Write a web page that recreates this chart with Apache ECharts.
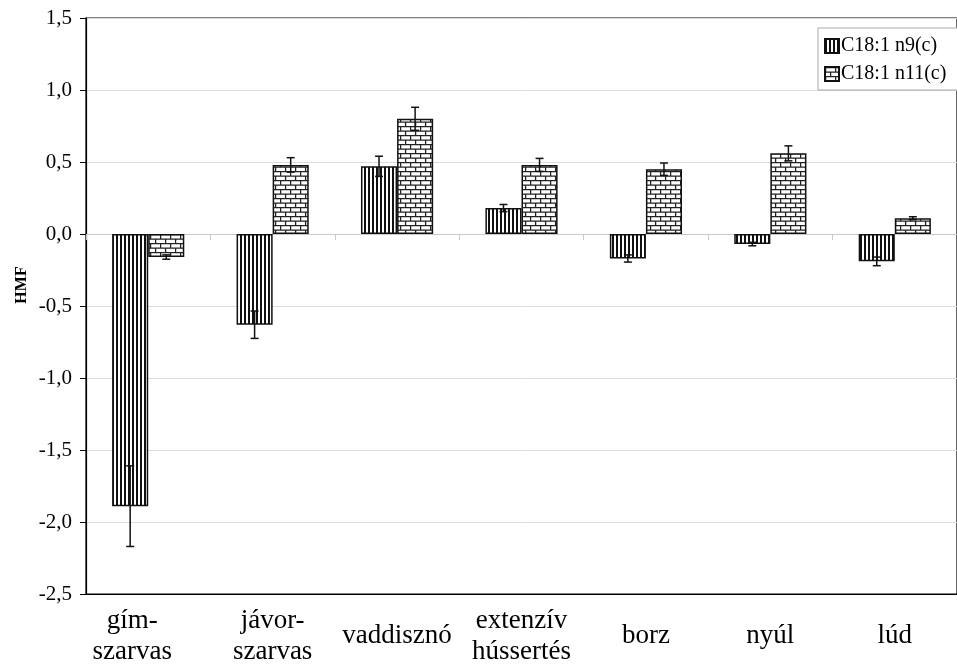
<!DOCTYPE html>
<html>
<head>
<meta charset="utf-8">
<script src="https://cdn.jsdelivr.net/npm/echarts@6/dist/echarts.min.js"></script>
<style>
  html, body { margin: 0; padding: 0; background: #fff; }
  #chart { width: 957px; height: 667px; }
</style>
</head>
<body>
<div id="chart"></div>
<script>
// Categories (species / production type)
const categories = ['gím-\nszarvas', 'jávor-\nszarvas', 'vaddisznó', 'extenzív\nhússertés', 'borz', 'nyúl', 'lúd'];

// HMF values and their error (± half-range) per fatty acid
const n9Values = [-1.89, -0.63, 0.47, 0.18, -0.17, -0.07, -0.19];
const n9Errors = [0.28, 0.095, 0.07, 0.025, 0.025, 0.012, 0.03];
const n11Values = [-0.16, 0.48, 0.80, 0.48, 0.45, 0.56, 0.11];
const n11Errors = [0.015, 0.05, 0.08, 0.045, 0.043, 0.052, 0.01];

const seriesNames = ['C18:1 n9(c)', 'C18:1 n11(c)'];
const yTicks = { min: -2.5, max: 1.5, step: 0.5 };
const yTitle = 'HMF';

const FONT = '"Liberation Serif", "Times New Roman", serif';
const BAR_GAP_CATEGORY = 0.42;

// Vertical stripe fill
function stripePattern() {
  const c = document.createElement('canvas');
  c.width = 4; c.height = 4;
  const g = c.getContext('2d');
  g.fillStyle = '#fff'; g.fillRect(0, 0, 4, 4);
  g.fillStyle = '#111'; g.fillRect(0, 0, 2, 4);
  return c;
}

// Brick fill
function brickPattern() {
  const c = document.createElement('canvas');
  c.width = 10; c.height = 9;
  const g = c.getContext('2d');
  g.fillStyle = '#fff'; g.fillRect(0, 0, 10, 9);
  g.strokeStyle = '#222'; g.lineWidth = 1.3;
  g.beginPath();
  g.moveTo(0, 0.6); g.lineTo(10, 0.6);
  g.moveTo(0, 5.1); g.lineTo(10, 5.1);
  g.moveTo(0.6, 0.6); g.lineTo(0.6, 5.1);
  g.moveTo(5.6, 5.1); g.lineTo(5.6, 9);
  g.stroke();
  return c;
}

const fills = [
  { image: stripePattern(), repeat: 'repeat' },
  { image: brickPattern(), repeat: 'repeat' }
];

function errorSeries(values, errors, side) {
  return {
    type: 'custom',
    xAxisIndex: 0,
    yAxisIndex: 0,
    z: 5,
    silent: true,
    data: values.map((v, i) => [i, v, errors[i]]),
    encode: { x: 0, y: 1 },
    renderItem: function (params, api) {
      const cat = api.value(0), v = api.value(1), e = api.value(2);
      const band = api.size([1, 0])[0];
      const w = band * (1 - BAR_GAP_CATEGORY) / 2;
      const x = api.coord([cat, v])[0] + side * w / 2;
      const yTop = api.coord([cat, v + e])[1];
      const yBot = api.coord([cat, v - e])[1];
      const cap = 4;
      const style = { stroke: '#111', lineWidth: 1.5 };
      return {
        type: 'group',
        children: [
          { type: 'line', shape: { x1: x, y1: yTop, x2: x, y2: yBot }, style },
          { type: 'line', shape: { x1: x - cap, y1: yTop, x2: x + cap, y2: yTop }, style },
          { type: 'line', shape: { x1: x - cap, y1: yBot, x2: x + cap, y2: yBot }, style }
        ]
      };
    }
  };
}

const chart = echarts.init(document.getElementById('chart'), null, { renderer: 'canvas' });

chart.setOption({
  animation: false,
  backgroundColor: '#fff',
  textStyle: { fontFamily: FONT, color: '#000' },
  grid: {
    left: 86, top: 18, right: -12, bottom: 72,
    show: true, borderColor: '#000', borderWidth: 1.2, backgroundColor: 'transparent'
  },
  legend: {
    data: seriesNames,
    orient: 'vertical',
    left: 818, top: 28,
    padding: [8, 30, 6, 6],
    itemGap: 8,
    itemWidth: 14, itemHeight: 14,
    icon: 'rect',
    borderColor: '#aaa', borderWidth: 1,
    backgroundColor: '#fff',
    textStyle: { fontFamily: FONT, fontSize: 20, color: '#000', padding: [0, 0, 0, -3] }
  },
  graphic: [{
    type: 'text',
    x: 22, y: 285,
    rotation: Math.PI / 2,
    style: {
      text: yTitle,
      fontFamily: FONT, fontSize: 16, fontWeight: 'bold', fill: '#000',
      align: 'center', verticalAlign: 'middle'
    }
  }],
  xAxis: [
    {
      type: 'category',
      data: categories,
      position: 'bottom',
      axisLine: { onZero: true, lineStyle: { color: '#c8c8c8', width: 1 } },
      axisTick: { show: true, length: 6, lineStyle: { color: '#c8c8c8' } },
      axisLabel: { show: false }
    },
    {
      type: 'category',
      data: categories,
      position: 'bottom',
      axisLine: { onZero: false, lineStyle: { color: '#000', width: 1.2 } },
      axisTick: { show: false },
      axisLabel: {
        fontFamily: FONT, fontSize: 27, color: '#000',
        lineHeight: 31, verticalAlign: 'middle', margin: 42, interval: 0,
        formatter: (v, i) => i === 0 ? '{wide|' + v.split('\n').join('}\n{wide|') + '}' : v,
        rich: {
          wide: { fontFamily: FONT, fontSize: 27, lineHeight: 31, color: '#000', padding: [0, 32, 0, 0] }
        }
      }
    }
  ],
  yAxis: {
    type: 'value',
    min: yTicks.min, max: yTicks.max, interval: yTicks.step,
    axisLine: { show: true, lineStyle: { color: '#000', width: 1.2 } },
    axisTick: { show: true, length: 6, inside: false, lineStyle: { color: '#000' } },
    axisLabel: {
      fontFamily: FONT, fontSize: 21, color: '#000', margin: 14,
      formatter: v => v.toFixed(1).replace('.', ',')
    },
    splitLine: { show: true, lineStyle: { color: '#dcdcdc', width: 1 } }
  },
  series: [
    {
      name: seriesNames[0], type: 'bar', xAxisIndex: 0, yAxisIndex: 0,
      data: n9Values,
      barGap: '0%', barCategoryGap: (BAR_GAP_CATEGORY * 100) + '%',
      itemStyle: { color: fills[0], borderColor: '#111', borderWidth: 1.5 }
    },
    {
      name: seriesNames[1], type: 'bar', xAxisIndex: 0, yAxisIndex: 0,
      data: n11Values,
      barGap: '0%', barCategoryGap: (BAR_GAP_CATEGORY * 100) + '%',
      itemStyle: { color: fills[1], borderColor: '#111', borderWidth: 1.5 }
    },
    errorSeries(n9Values, n9Errors, -1),
    errorSeries(n11Values, n11Errors, 1)
  ]
});
</script>
</body>
</html>
